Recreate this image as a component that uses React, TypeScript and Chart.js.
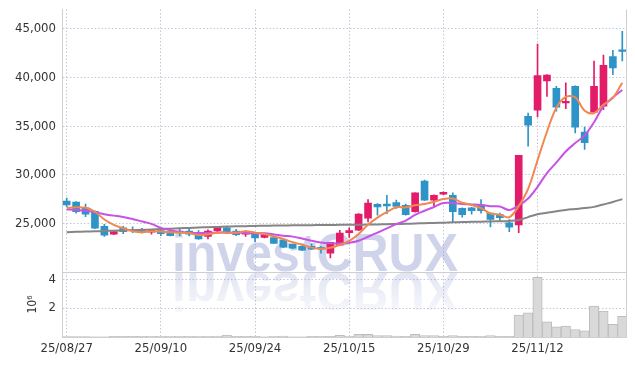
import React, { useEffect, useRef } from 'react';
import { Chart, registerables } from 'chart.js';

Chart.register(...registerables);

const dates = [
  '25/08/27', '25/08/28', '25/08/29', '25/09/01', '25/09/02', '25/09/03', '25/09/04', '25/09/05', '25/09/08', '25/09/09',
  '25/09/10', '25/09/11', '25/09/12', '25/09/15', '25/09/16', '25/09/17', '25/09/18', '25/09/19', '25/09/22', '25/09/23',
  '25/09/24', '25/09/25', '25/09/26', '25/09/29', '25/09/30', '25/10/01', '25/10/02', '25/10/10', '25/10/13', '25/10/14',
  '25/10/15', '25/10/16', '25/10/17', '25/10/20', '25/10/21', '25/10/22', '25/10/23', '25/10/24', '25/10/27', '25/10/28',
  '25/10/29', '25/10/30', '25/10/31', '25/11/03', '25/11/04', '25/11/05', '25/11/06', '25/11/07', '25/11/10', '25/11/11',
  '25/11/12', '25/11/13', '25/11/14', '25/11/17', '25/11/18', '25/11/19', '25/11/20', '25/11/21', '25/11/24', '25/11/25',
];

const opens = [
  27300, 27200, 26600, 26250, 24700, 23900, 24550, 24350, 24350, 24100,
  24250, 24150, 24200, 24200, 23950, 23650, 24250, 24550, 24200, 23900,
  23950, 23550, 23550, 23300, 22850, 22650, 22650, 22550, 21950, 22750,
  24050, 24300, 25550, 26950, 27000, 27150, 26850, 26200, 29350, 27400,
  28000, 27900, 26550, 26600, 26900, 26050, 25900, 25050, 24850, 36000,
  36650, 39650, 38900, 37400, 39100, 34400, 36450, 37050, 42150, 42850,
];
const highs = [
  27600, 27250, 27000, 26300, 24900, 24150, 24700, 24650, 24500, 24400,
  24600, 24350, 24450, 24400, 24250, 24350, 24700, 24650, 24400, 24250,
  24050, 23900, 23600, 23350, 22900, 22700, 22900, 22650, 23050, 24300,
  24550, 26000, 27450, 27050, 27900, 27400, 27000, 28150, 29450, 27950,
  28250, 28150, 26600, 26650, 27450, 26100, 26050, 25400, 32000, 36350,
  43450, 40300, 39100, 39450, 39150, 34900, 41700, 42300, 42800, 44750,
];
const lows = [
  26700, 26050, 25700, 24450, 23650, 23850, 23950, 24050, 24000, 23900,
  23750, 23700, 23750, 23700, 23350, 23400, 24000, 23950, 23750, 23650,
  23100, 23500, 22950, 22500, 22400, 22200, 22300, 21950, 21450, 22700,
  23550, 24250, 25150, 25850, 26000, 26550, 25850, 26150, 27350, 26750,
  27950, 25150, 25650, 25950, 26050, 24650, 25300, 24150, 24050, 32950,
  35950, 38050, 36550, 36800, 34300, 32600, 36300, 36700, 40300, 41700,
];
const closes = [
  26900, 26200, 25950, 24500, 23800, 24150, 24150, 24250, 24100, 24350,
  23950, 23750, 24100, 23900, 23400, 24200, 24600, 24150, 23850, 24150,
  23500, 23850, 22950, 22550, 22450, 22250, 22350, 22350, 23050, 24000,
  24250, 25950, 27100, 26700, 26800, 26750, 25900, 28150, 27400, 27900,
  28200, 26200, 25900, 26300, 26300, 25400, 25600, 24600, 32000, 35100,
  40200, 40250, 36950, 37550, 34900, 33300, 39100, 41250, 41000, 42700,
];

const ma5 = [
  26600, 26650, 26600, 26200, 25400, 24850, 24500, 24200, 24100, 24200,
  24160, 24080, 24050, 24010, 23820, 23870, 24040, 24050, 24040, 24190,
  24050, 23900, 23660, 23400, 23060, 22810, 22510, 22390, 22490, 22800,
  23200, 23920, 24870, 25600, 26160, 26660, 26650, 26860, 27000, 27220,
  27510, 27570, 27120, 26900, 26580, 26020, 25900, 25640, 26780, 28540,
  31500, 34430, 36900, 38010, 37970, 36590, 36360, 37220, 37910, 39470,
];
const ma10 = [
  26440, 26380, 26300, 26150, 25950, 25800, 25650, 25450, 25200, 24950,
  24540, 24300, 24110, 24050, 24010, 24020, 24060, 24050, 24030, 24020,
  23970, 23980, 23870, 23730, 23640, 23440, 23220, 23040, 22960, 22940,
  23010, 23220, 23630, 24050, 24480, 24930, 25290, 25870, 26300, 26690,
  27090, 27110, 26990, 26950, 26900, 26770, 26740, 26380, 26840, 27560,
  28760, 30170, 31270, 32400, 33260, 34050, 35400, 37060, 37960, 38720,
];
const ma60 = [
  24100, 24130, 24160, 24190, 24220, 24250, 24280, 24310, 24340, 24380,
  24420, 24460, 24500, 24540, 24580, 24610, 24640, 24670, 24700, 24720,
  24740, 24760, 24780, 24790, 24800, 24810, 24820, 24830, 24840, 24850,
  24860, 24870, 24880, 24900, 24920, 24940, 24960, 24990, 25020, 25050,
  25080, 25110, 25140, 25160, 25180, 25200, 25220, 25250, 25350, 25650,
  25950, 26100, 26250, 26380, 26480, 26580, 26700, 26950, 27200, 27500,
];
const volumes = [
  30000, 30000, 30000, 10000, 10000, 40000, 40000, 40000, 40000, 50000,
  50000, 50000, 50000, 50000, 50000, 50000, 60000, 120000, 40000, 40000,
  40000, 20000, 50000, 60000, 20000, 20000, 40000, 40000, 40000, 110000,
  60000, 190000, 180000, 100000, 100000, 60000, 40000, 190000, 100000, 100000,
  40000, 100000, 40000, 40000, 50000, 100000, 40000, 40000, 1510000, 1670000,
  4140000, 1050000, 700000, 750000, 520000, 420000, 2140000, 1790000, 880000, 1440000,
];

const priceTicks = [25000, 30000, 35000, 40000, 45000];
const volumeTicks = [2000000, 4000000];
const watermarkText = 'investCRUX';

const UP = '#e31c6a';
const DOWN = '#2e94c8';
const GRID = '#c3c7dc';
const FRAME = '#cfcfcf';
const TEXT = '#333333';
const FONT = '"DejaVu Sans Condensed", "DejaVu Sans", sans-serif';

export default function App() {
  const ref = useRef<HTMLCanvasElement>(null);

  useEffect(() => {
    const colors = closes.map((c, i) => (c >= opens[i] ? UP : DOWN));

    const watermark = {
      id: 'watermark',
      beforeDatasetsDraw(chart: any) {
        const ctx = chart.ctx as CanvasRenderingContext2D;
        const vol = chart.scales.vol;
        const area = chart.chartArea;
        ctx.save();
        ctx.font = 'bold 54px "Liberation Sans", Arial, sans-serif';
        const w = ctx.measureText(watermarkText).width;
        const sx = 286 / w;
        const x = area.left + 110;
        const y = vol.top - 1;
        ctx.translate(x, y);
        ctx.scale(sx, 1);
        ctx.fillStyle = 'rgba(150,160,210,0.45)';
        ctx.fillText(watermarkText, 0, 0);
        ctx.restore();

        ctx.save();
        ctx.font = 'bold 54px "Liberation Sans", Arial, sans-serif';
        ctx.translate(x, y + 2);
        ctx.scale(sx, -1);
        const g = ctx.createLinearGradient(0, 0, 0, -42);
        g.addColorStop(0, 'rgba(150,160,210,0.28)');
        g.addColorStop(1, 'rgba(150,160,210,0.06)');
        ctx.fillStyle = g;
        ctx.fillText(watermarkText, 0, 0);
        ctx.restore();
      },
      afterDraw(chart: any) {
        const ctx = chart.ctx as CanvasRenderingContext2D;
        const vol = chart.scales.vol;
        const area = chart.chartArea;
        ctx.save();
        ctx.strokeStyle = FRAME;
        ctx.lineWidth = 1;
        ctx.beginPath();
        const yy = Math.round(vol.top) + 0.5;
        ctx.moveTo(area.left, yy);
        ctx.lineTo(area.right, yy);
        const xx = Math.round(area.right) - 0.5;
        ctx.moveTo(xx, area.top);
        ctx.lineTo(xx, area.bottom);
        ctx.stroke();
        ctx.restore();
      },
    };

    const tickFont = { family: FONT, size: 13 };
    const fitY = (s: any) => {
      s.width = 54;
      s.paddingTop = 0;
      s.paddingBottom = 0;
    };

    const chart = new Chart(ref.current as HTMLCanvasElement, {
      type: 'bar',
      data: {
        labels: dates,
        datasets: [
          {
            type: 'line', label: 'MA5', data: ma5, yAxisID: 'y',
            borderColor: '#f0884f', borderWidth: 2, pointRadius: 0, tension: 0.35, order: 0,
          } as any,
          {
            type: 'line', label: 'MA10', data: ma10, yAxisID: 'y',
            borderColor: '#c653e6', borderWidth: 2, pointRadius: 0, tension: 0.35, order: 1,
          } as any,
          {
            type: 'line', label: 'MA60', data: ma60, yAxisID: 'y',
            borderColor: '#858585', borderWidth: 2, pointRadius: 0, tension: 0.35, order: 2,
          } as any,
          {
            type: 'bar', label: 'body', data: opens.map((o, i) => [o, closes[i]]), yAxisID: 'y',
            backgroundColor: colors, barThickness: 7, grouped: false, order: 3,
          } as any,
          {
            type: 'bar', label: 'wick', data: lows.map((l, i) => [l, highs[i]]), yAxisID: 'y',
            backgroundColor: colors, barThickness: 1, grouped: false, order: 4,
          } as any,
          {
            type: 'bar', label: 'volume', data: volumes, yAxisID: 'vol',
            backgroundColor: '#d9d9d9', borderColor: '#bdbdbd', borderWidth: 1,
            barPercentage: 1, categoryPercentage: 1, grouped: false, order: 5,
          } as any,
        ],
      },
      options: {
        animation: false,
        responsive: false,
        events: [],
        layout: { padding: { top: 1.5, right: 0, bottom: 0, left: 0 } },
        plugins: { legend: { display: false }, tooltip: { enabled: false } },
        scales: {
          x: {
            type: 'category',
            offset: true,
            grid: { offset: false, color: GRID, drawTicks: false, lineWidth: 1 },
            border: { color: FRAME, dash: [1.5, 2] },
            afterBuildTicks: (s: any) => {
              s.ticks = s.ticks.filter((t: any) => t.value % 10 === 0);
            },
            ticks: { autoSkip: false, maxRotation: 0, padding: 4, color: TEXT, font: tickFont },
            afterFit: (s: any) => {
              s.height = 21;
              s.paddingLeft = 0;
              s.paddingRight = 0;
            },
          },
          vol: {
            type: 'linear',
            position: 'left',
            stack: 'panels',
            stackWeight: 1,
            weight: 1,
            min: 0,
            max: 4500000,
            afterBuildTicks: (s: any) => { s.ticks = volumeTicks.map((v) => ({ value: v })); },
            ticks: { callback: (v: any) => String(Number(v) / 1000000), padding: 6, color: TEXT, font: tickFont },
            title: { display: true, text: '10⁶', color: TEXT, font: { family: FONT, size: 12 }, padding: { top: 18, bottom: 0 } },
            grid: { color: GRID, drawTicks: false },
            border: { color: FRAME, dash: [1.5, 2] },
            afterFit: fitY,
          },
          y: {
            type: 'linear',
            position: 'left',
            stack: 'panels',
            stackWeight: 4.04,
            weight: 2,
            min: 20000,
            max: 47000,
            afterBuildTicks: (s: any) => { s.ticks = priceTicks.map((v) => ({ value: v })); },
            ticks: { callback: (v: any) => Number(v).toLocaleString('en-US'), padding: 6, color: TEXT, font: tickFont },
            grid: { color: GRID, drawTicks: false },
            border: { color: FRAME, dash: [1.5, 2] },
            afterFit: fitY,
          },
        } as any,
      },
      plugins: [watermark],
    });

    return () => chart.destroy();
  }, []);

  return (
    <canvas ref={ref} width={619} height={350} style={{ display: 'block', width: 619, height: 350 }} />
  );
}
